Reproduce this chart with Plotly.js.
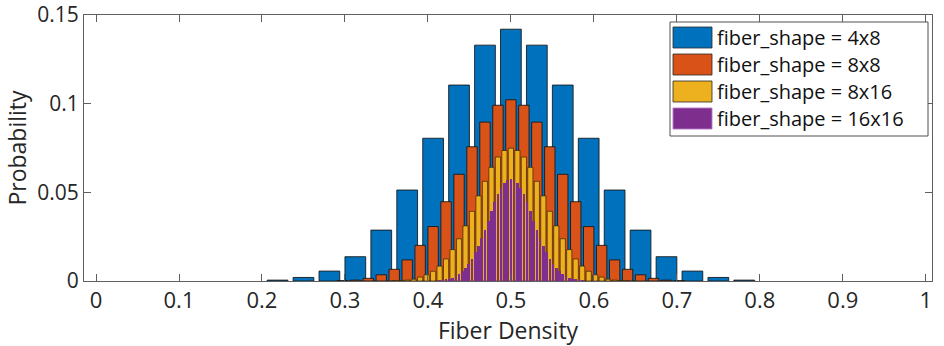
<!DOCTYPE html>
<html>
<head>
<meta charset="utf-8">
<script src="https://cdn.plot.ly/plotly-3.0.1.min.js"></script>
<style>
  html, body { margin: 0; padding: 0; background: #fff; }
  #chart { width: 944px; height: 346px; }
</style>
</head>
<body>
<div id="chart"></div>
<script>
// ---- data ----
const seriesNames = ["fiber_shape = 4x8", "fiber_shape = 8x8", "fiber_shape = 8x16", "fiber_shape = 16x16"];
const binCounts = [32, 64, 128, 256];      // number of fibers -> density = k / n
const firstBin = [7, 19, 46, 100];          // first listed k for each series

const probs4x8 = [0.0005, 0.0020, 0.0056, 0.0137, 0.0287, 0.0513, 0.0805, 0.1105, 0.1330,
  0.1420,
  0.1330, 0.1105, 0.0805, 0.0513, 0.0287, 0.0137, 0.0056, 0.0020, 0.0005];

const probs8x8 = [0.0002, 0.0005, 0.0015, 0.0035, 0.0066, 0.0119, 0.0201, 0.0307, 0.0447, 0.0602,
  0.0757, 0.0896, 0.0991,
  0.1022,
  0.0991, 0.0896, 0.0757, 0.0602, 0.0447, 0.0307, 0.0201, 0.0119, 0.0066, 0.0035, 0.0015, 0.0005, 0.0002];

const probs8x16 = [0.0001, 0.0002, 0.0005, 0.0010, 0.0022, 0.0035, 0.0055, 0.0084, 0.0124, 0.0177,
  0.0238, 0.0311, 0.0393, 0.0480, 0.0562, 0.0641, 0.0699, 0.0736,
  0.0749,
  0.0736, 0.0699, 0.0641, 0.0562, 0.0480, 0.0393, 0.0311, 0.0238, 0.0177, 0.0124, 0.0084,
  0.0055, 0.0035, 0.0022, 0.0010, 0.0005, 0.0002, 0.0001];

const probs16x16 = [0.00002, 0.00003, 0.00005, 0.0001, 0.0001, 0.0002, 0.0004, 0.0006, 0.0009, 0.0013,
  0.0019, 0.0028, 0.0040, 0.0055, 0.0075, 0.0097, 0.0124, 0.0161, 0.0197, 0.0243,
  0.0289, 0.0338, 0.0393, 0.0444, 0.0489, 0.0526, 0.0553, 0.0568,
  0.0575,
  0.0568, 0.0553, 0.0526, 0.0489, 0.0444, 0.0393, 0.0338, 0.0289, 0.0243, 0.0197,
  0.0161, 0.0124, 0.0097, 0.0075, 0.0055, 0.0040, 0.0028, 0.0019, 0.0013, 0.0009,
  0.0006, 0.0004, 0.0002, 0.0001, 0.0001, 0.00005, 0.00003, 0.00002];

const xTickVals = [0, 0.1, 0.2, 0.3, 0.4, 0.5, 0.6, 0.7, 0.8, 0.9, 1];
const xTickText = ["0", "0.1", "0.2", "0.3", "0.4", "0.5", "0.6", "0.7", "0.8", "0.9", "1"];
const yTickVals = [0, 0.05, 0.1, 0.15];
const yTickText = ["0", "0.05", "0.1", "0.15"];
const xTitle = "Fiber Density";
const yTitle = "Probability";

// ---- styles ----
const fillColors = ["#0072BD", "#D95319", "#EDB120", "#7E2F8E"];
const edgeColors = ["rgba(20,20,20,0.85)", "rgba(20,20,20,0.85)", "rgba(40,25,0,0.8)", "rgba(0,0,0,0)"];
const edgeWidths = [1, 1, 0.8, 0];
const FONT = "'Open Sans', 'DejaVu Sans', sans-serif";
const AXIS_COLOR = "rgb(95,95,95)";

const allProbs = [probs4x8, probs8x8, probs8x16, probs16x16];

const traces = allProbs.map((vals, s) => ({
  type: "bar",
  name: seriesNames[s],
  x: vals.map((_, i) => (firstBin[s] + i) / binCounts[s]),
  y: vals,
  width: 0.8 / binCounts[s],
  marker: {
    color: fillColors[s],
    line: { color: edgeColors[s], width: edgeWidths[s] }
  },
  showlegend: false,
  hoverinfo: "x+y"
}));

// ---- custom legend (MATLAB-style wide swatches) in paper coordinates ----
// plot area: left 84, right 932, top 15, bottom 281 (px)
const PL = 84, PR = 932, PT = 15, PB = 281;
const px2x = p => (p - PL) / (PR - PL);
const py2y = p => (PB - p) / (PB - PT);

const shapes = [];
const annotations = [];
shapes.push({
  type: "rect", xref: "paper", yref: "paper",
  x0: px2x(670), x1: px2x(928), y0: py2y(136), y1: py2y(22),
  line: { color: "rgb(80,80,80)", width: 1 }, fillcolor: "#ffffff", layer: "above"
});
seriesNames.forEach((nm, s) => {
  const top = 27 + s * 27.0;
  shapes.push({
    type: "rect", xref: "paper", yref: "paper",
    x0: px2x(673), x1: px2x(712), y0: py2y(top + 21), y1: py2y(top),
    line: { color: s === 3 ? "rgba(180,120,200,0.9)" : "rgba(40,40,40,0.8)", width: 1 },
    fillcolor: fillColors[s], layer: "above"
  });
  annotations.push({
    xref: "paper", yref: "paper",
    x: px2x(715), y: py2y(top + 10.5),
    xanchor: "left", yanchor: "middle",
    text: nm, showarrow: false,
    font: { family: FONT, size: 20, color: "#111" }
  });
});

const layout = {
  width: 944, height: 346,
  margin: { l: PL, r: 944 - PR, t: PT, b: 346 - PB, pad: 0 },
  paper_bgcolor: "#ffffff",
  plot_bgcolor: "#ffffff",
  barmode: "overlay",
  bargap: 0,
  font: { family: FONT, size: 21, color: "#262626" },
  xaxis: {
    range: [-0.0145, 1.0075],
    tickvals: xTickVals, ticktext: xTickText,
    ticks: "inside", ticklen: 7, tickwidth: 1, tickcolor: AXIS_COLOR,
    showline: true, linecolor: AXIS_COLOR, linewidth: 1, mirror: "ticks",
    showgrid: false, zeroline: false,
    tickfont: { family: FONT, size: 22, color: "#262626" },
    title: { text: xTitle, font: { family: FONT, size: 23, color: "#262626" }, standoff: 4 }
  },
  yaxis: {
    range: [0, 0.15],
    tickvals: yTickVals, ticktext: yTickText,
    ticks: "inside", ticklen: 7, tickwidth: 1, tickcolor: AXIS_COLOR,
    showline: true, linecolor: AXIS_COLOR, linewidth: 1, mirror: "ticks",
    showgrid: false, zeroline: false,
    ticklabeloverflow: "allow",
    tickfont: { family: FONT, size: 21, color: "#262626" },
    title: { text: yTitle, font: { family: FONT, size: 23, color: "#262626" }, standoff: 4 }
  },
  shapes: shapes,
  annotations: annotations,
  showlegend: false
};

Plotly.newPlot("chart", traces, layout, { displayModeBar: false, staticPlot: true });
</script>
</body>
</html>
